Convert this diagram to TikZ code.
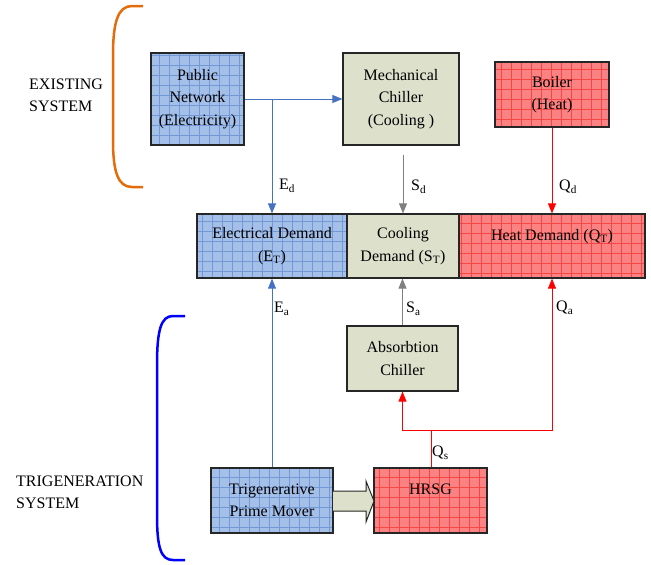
\documentclass[tikz,border=0pt]{standalone}
\usepackage{fontspec}
\setmainfont{Liberation Serif}
\usetikzlibrary{arrows.meta}

\definecolor{netblue}{RGB}{165,192,232}
\definecolor{gridblue}{RGB}{115,152,214}
\definecolor{chillgreen}{RGB}{221,225,204}
\definecolor{heatred}{RGB}{250,130,130}
\definecolor{gridred}{RGB}{245,70,70}
\definecolor{lineblue}{RGB}{70,114,196}
\definecolor{linegray}{RGB}{128,128,128}
\definecolor{bracketorange}{RGB}{228,108,10}

\tikzset{
  box/.style={draw=black!85, line width=1.2pt, align=center, inner sep=2pt,
    text=black, font=\fontsize{16}{22.5}\selectfont},
  bluebox/.style={box, fill=netblue, path picture={
    \draw[gridblue, line width=0.45pt, step=10pt] (path picture bounding box.south west)
      grid (path picture bounding box.north east);}},
  greenbox/.style={box, fill=chillgreen},
  redbox/.style={box, fill=heatred, path picture={
    \draw[gridred, line width=0.45pt, step=10pt] (path picture bounding box.south west)
      grid (path picture bounding box.north east);}},
  flowlabel/.style={anchor=west, inner sep=0pt, font=\fontsize{16}{18}\selectfont},
  bluearr/.style={lineblue, line width=0.8pt, -{Triangle[length=10pt,width=8pt]}},
  grayarr/.style={linegray, line width=0.8pt, -{Triangle[length=10pt,width=8pt]}},
  redarr/.style={red, line width=0.8pt, -{Triangle[length=10pt,width=8pt]}},
}

\begin{document}
\begin{tikzpicture}[x=1pt, y=-1pt]

\useasboundingbox (0,0) rectangle (651,565);

% Existing system boxes
\node[bluebox, minimum width=93pt, minimum height=92pt] (pub) at (197.5,99) {Public\\Network\\(Electricity)};
\node[greenbox, minimum width=116pt, minimum height=92pt] (mech) at (401,99) {Mechanical\\Chiller\\(Cooling )};
\node[redbox, minimum width=114pt, minimum height=65pt] (boil) at (552,94.5) {Boiler\\(Heat)};

% Demand row
\node[bluebox, minimum width=150pt, minimum height=64pt] (edem) at (272,246) {Electrical Demand\\(E\textsubscript{T})};
\node[greenbox, minimum width=112pt, minimum height=64pt] (cdem) at (403,246) {Cooling\\Demand (S\textsubscript{T})};
\node[redbox, minimum width=186pt, minimum height=64pt] (hdem) at (552,246) {Heat Demand (Q\textsubscript{T})\\~};

% Trigeneration boxes
\node[greenbox, minimum width=111pt, minimum height=65pt] (abs) at (402.5,358.5) {Absorbtion\\Chiller};
\node[bluebox, minimum width=122pt, minimum height=65pt] (pm) at (272,500.5) {Trigenerative\\Prime Mover};
\node[redbox, minimum width=113pt, minimum height=65pt] (hrsg) at (430.5,500.5) {HRSG\\~};

% Block arrow from prime mover to HRSG
\draw[black!85, line width=1pt, fill=chillgreen] (333,491) -- (366,491) -- (366,481)
  -- (374,501) -- (366,522) -- (366,511) -- (333,511);

% Existing supply
\draw[bluearr] (pub.east) -- (mech.west);
\draw[bluearr] (pub.east -| edem.north) -- (edem.north);
\draw[grayarr] ([yshift=-9pt]mech.south -| cdem.north) -- (cdem.north);
\draw[redarr] (boil.south) -- (hdem.north);

% Trigeneration supply
\draw[bluearr] (pm.north) -- (edem.south);
\draw[grayarr] (abs.north) -- (abs.north |- cdem.south);
\coordinate (Qjoin) at (431,430);
\draw[red, line width=0.8pt] (hrsg.north -| Qjoin) -- (Qjoin);
\draw[redarr] (Qjoin) -| (abs.south);
\draw[redarr] (Qjoin) -| (hdem.south);

% Labels
\node[flowlabel] (Ed) at (279,186) {E\textsubscript{d}};
\node[flowlabel] (Sd) at (411,187) {S\textsubscript{d}};
\node[flowlabel] (Qd) at (559,187) {Q\textsubscript{d}};
\node[flowlabel] (Ea) at (274,309) {E\textsubscript{a}};
\node[flowlabel] (Sa) at (406,309) {S\textsubscript{a}};
\node[flowlabel] (Qa) at (556,308) {Q\textsubscript{a}};
\node[flowlabel] (Qs) at (432,453) {Q\textsubscript{s}};

% Brackets
\draw[bracketorange, line width=2.5pt] (143,6) -- (132,6) .. controls (118,6) and (113,22) .. (113,55)
  -- (113,140) .. controls (113,172) and (118,187) .. (132,187) -- (143,187);
\draw[blue, line width=2.5pt] (185,316) -- (173,316) .. controls (161,316) and (157,330) .. (157,365)
  -- (157,515) .. controls (157,548) and (161,560) .. (173,560) -- (185,560);

% System names
\node[align=left, anchor=west, inner sep=0pt, font=\fontsize{16}{22}\selectfont] (exist) at (29,95) {EXISTING\\SYSTEM};
\node[align=left, anchor=west, inner sep=0pt, font=\fontsize{16}{22}\selectfont] (trigen) at (16,492) {TRIGENERATION\\SYSTEM};

\end{tikzpicture}
\end{document}
